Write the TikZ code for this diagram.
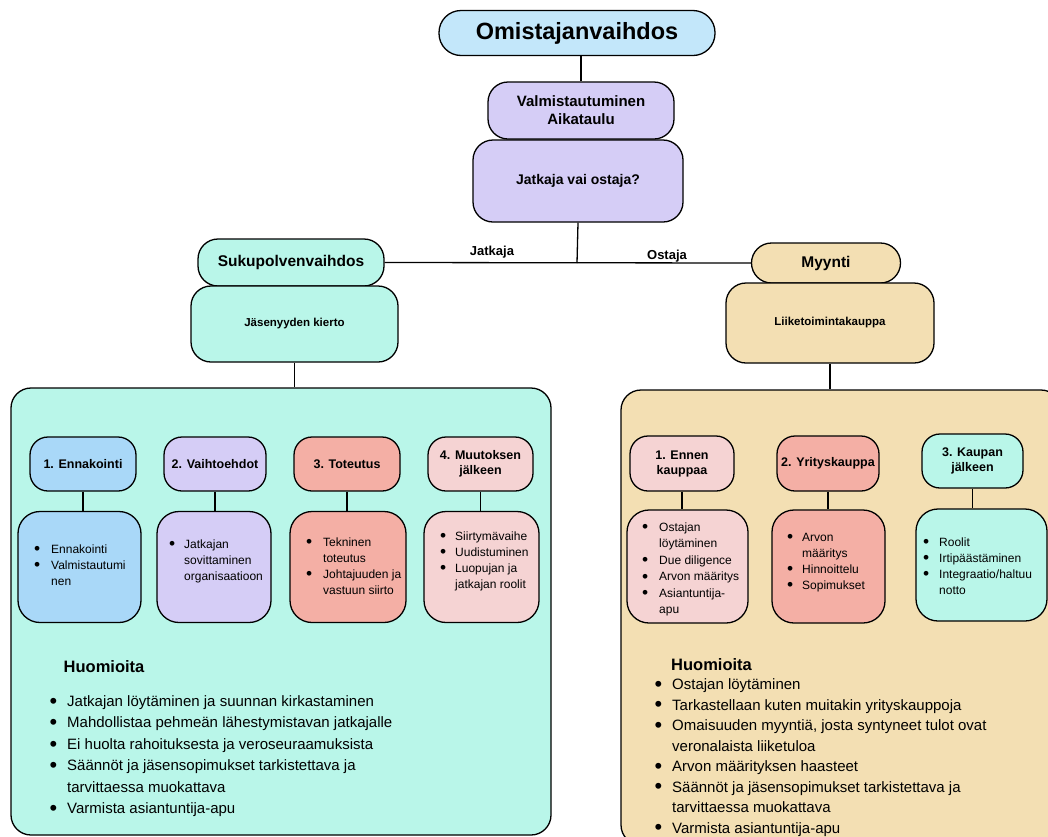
\documentclass[tikz,border=0pt]{standalone}
\usepackage{fontspec}
\setmainfont{Liberation Sans}
\definecolor{cblueA}{HTML}{C3E7FA}
\definecolor{clav}{HTML}{D5CDF6}
\definecolor{cmint}{HTML}{B9F6E9}
\definecolor{ctan}{HTML}{F3DFB3}
\definecolor{cblueB}{HTML}{A9D8F8}
\definecolor{csalmon}{HTML}{F4AFA5}
\definecolor{cpink}{HTML}{F5D3D3}
\newlength{\bulw}
\newcommand{\bigbul}{\raisebox{-0.12em}{\scalebox{1.45}{\textbullet}}}
\newcommand{\bi}[1]{\par\noindent\hangindent=\bulw\hangafter=1\makebox[\bulw][l]{\bigbul}#1\par}
\newcommand{\lst}[3]{\begin{minipage}[t]{#1pt}\setlength{\parindent}{0pt}\setlength{\parskip}{0pt}\setlength{\bulw}{#2pt}#3\end{minipage}}
\begin{document}
\begin{tikzpicture}[x=1pt,y=-1pt,
  box/.style={draw=black, line width=1.3pt, rounded corners=20pt, inner sep=0pt, align=center},
  wh/.style 2 args={minimum width=#1pt, minimum height=#2pt},
  hdr/.style={box, rounded corners=18pt, font=\fontsize{12.5}{15}\selectfont\bfseries},
  body/.style={box, rounded corners=22pt},
  conn/.style={draw=black, line width=1.3pt},
  lbl/.style={inner sep=0pt, font=\fontsize{13}{15}\selectfont\bfseries},
  lstxt/.style={anchor=base west, inner sep=0pt, font=\fontsize{12}{16}\selectfont},
  big/.style={anchor=base west, inner sep=0pt, font=\fontsize{15}{21.4}\selectfont},
  huo/.style={anchor=base west, inner sep=0pt, font=\fontsize{16.5}{20}\selectfont\bfseries}]
\useasboundingbox (0,0) rectangle (1048,836);
\clip (0,0) rectangle (1048,836);
\fill[white] (0,0) rectangle (1048,836);

% top part
\node[box, fill=cblueA, rounded corners=22pt, wh={276}{45}, font=\fontsize{23.5}{26}\selectfont\bfseries] (omi) at (577,33) {Omistajanvaihdos};
\node[box, fill=clav, wh={186}{57}, font=\fontsize{15}{18}\selectfont\bfseries] (val) at (581,110.5) {Valmistautuminen\\Aikataulu};
\node[box, fill=clav, wh={210}{82}, font=\fontsize{14}{17}\selectfont\bfseries] (jv) at (578,181) {Jatkaja vai ostaja?};
\draw[conn] (val.north) -- (val.north |- omi.south);

\node[box, fill=cmint, wh={186}{47}, font=\fontsize{15.5}{18}\selectfont\bfseries] (suku) at (291,262.5) {Sukupolvenvaihdos};
\node[box, fill=cmint, wh={207}{76}, font=\fontsize{11.5}{14}\selectfont\bfseries] (jas) at (294.5,324) {Jäsenyyden kierto};
\node[box, fill=ctan, wh={149}{40}, font=\fontsize{15.5}{18}\selectfont\bfseries] (myy) at (826,263) {Myynti};
\node[box, fill=ctan, wh={208}{80}, font=\fontsize{11.5}{14}\selectfont\bfseries] (lii) at (830,323) {Liiketoimintakauppa};

\coordinate (jn) at (577,263);
\draw[conn] (jv.south) -- (jn);
\draw[conn] (suku.east) -- (myy.west);
\node[lbl] (ljat) at (492,252) {Jatkaja};
\node[lbl] (lost) at (667,256) {Ostaja};

% big boxes
\node[box, fill=cmint, wh={540}{447}] (lbig) at (281,611.5) {};
\node[box, fill=ctan, wh={440}{455}] (rbig) at (841,617.5) {};
\draw[conn] (jas.south) -- (jas.south |- lbig.north);
\draw[conn] (lii.south) -- (lii.south |- rbig.north);

% left inner boxes
\node[hdr, fill=cblueB, wh={106}{54}] (h1) at (83,464) {1. Ennakointi};
\node[body, fill=cblueB, wh={123}{111}] (b1) at (79.5,567) {};
\node[hdr, fill=clav, wh={102}{54}] (h2) at (215,464) {2. Vaihtoehdot};
\node[body, fill=clav, wh={114}{111}] (b2) at (214,567) {};
\node[hdr, fill=csalmon, wh={106}{54}] (h3) at (347,464) {3. Toteutus};
\node[body, fill=csalmon, wh={116}{111}] (b3) at (348,567) {};
\node[hdr, fill=cpink, wh={105}{54}] (h4) at (480.5,464) {4. Muutoksen\\jälkeen};
\node[body, fill=cpink, wh={115}{111}] (b4) at (481.5,567) {};
\foreach \i in {1,2,3,4} {\draw[conn] (h\i.south) -- (h\i.south |- b\i.north);}

\node[lstxt] (t1) at (34,553.5) {\lst{110}{17}{\bi{Ennakointi}\bi{Valmistautumi\\nen}}};
\node[lstxt] (t2) at (169,548.5) {\lst{110}{15}{\bi{Jatkajan\\sovittaminen\\organisaatioon}}};
\node[lstxt] (t3) at (306,546.5) {\lst{110}{17}{\bi{Tekninen\\toteutus}\bi{Johtajuuden ja\\vastuun siirto}}};
\node[lstxt] (t4) at (440,540.5) {\lst{110}{15}{\bi{Siirtymävaihe}\bi{Uudistuminen}\bi{Luopujan ja\\jatkajan roolit}}};

% right inner boxes
\node[hdr, fill=cpink, wh={104}{55}] (g1) at (682,463.5) {1. Ennen\\kauppaa};
\node[body, fill=cpink, wh={121}{113}] (c1) at (687.5,566.5) {};
\node[hdr, fill=csalmon, wh={102}{55}] (g2) at (828,463.5) {2. Yrityskauppa};
\node[body, fill=csalmon, wh={113}{113}] (c2) at (828.5,566.5) {};
\node[hdr, fill=cmint, wh={101}{54}] (g3) at (972.5,461) {3. Kaupan\\jälkeen};
\node[body, fill=cmint, wh={131}{112}] (c3) at (981.5,565) {};
\foreach \i in {1,2,3} {\draw[conn] (g\i.south) -- (g\i.south |- c\i.north);}

\node[lstxt, font=\fontsize{12}{16.4}\selectfont] (s1) at (642,531.5) {\lst{110}{17}{\bi{Ostajan\\löytäminen}\bi{Due diligence}\bi{Arvon määritys}\bi{Asiantuntija-\\apu}}};
\node[lstxt] (s2) at (787,541.5) {\lst{110}{15}{\bi{Arvon\\määritys}\bi{Hinnoittelu}\bi{Sopimukset}}};
\node[lstxt] (s3) at (923,546.5) {\lst{120}{16}{\bi{Roolit}\bi{Irtipäästäminen}\bi{Integraatio/haltuu\\notto}}};

% Huomioita
\node[huo] (lhu) at (63.5,672) {Huomioita};
\node[big] (lhl) at (49.5,706.5) {\lst{480}{17.5}{%
\bi{Jatkajan löytäminen ja suunnan kirkastaminen}%
\bi{Mahdollistaa pehmeän lähestymistavan jatkajalle}%
\bi{Ei huolta rahoituksesta ja veroseuraamuksista}%
\bi{Säännöt ja jäsensopimukset tarkistettava ja\\tarvittaessa muokattava}%
\bi{Varmista asiantuntija-apu}}};

\node[huo] (rhu) at (671,670) {Huomioita};
\node[big, font=\fontsize{15}{20.5}\selectfont] (rhl) at (654.5,689.5) {\lst{380}{17.5}{%
\bi{Ostajan löytäminen}%
\bi{Tarkastellaan kuten muitakin yrityskauppoja}%
\bi{Omaisuuden myyntiä, josta syntyneet tulot ovat\\veronalaista liiketuloa}%
\bi{Arvon määrityksen haasteet}%
\bi{Säännöt ja jäsensopimukset tarkistettava ja\\tarvittaessa muokattava}%
\bi{Varmista asiantuntija-apu}}};
\end{tikzpicture}
\end{document}
